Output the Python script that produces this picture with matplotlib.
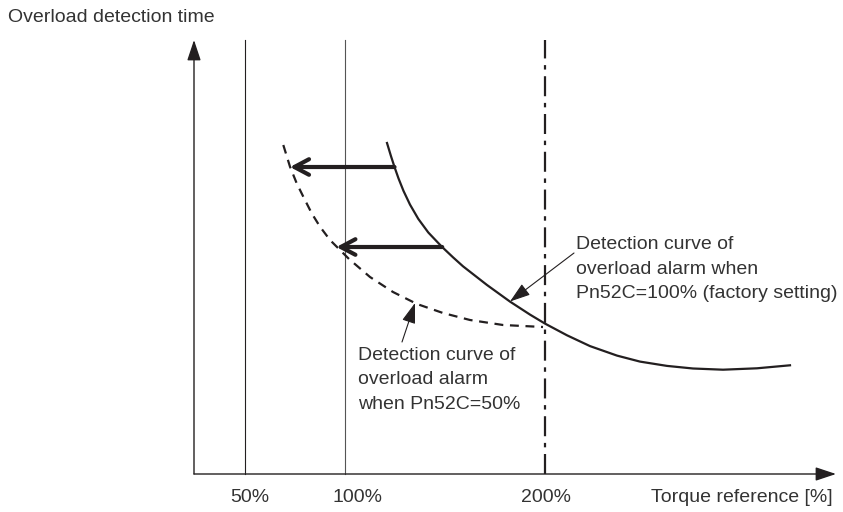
import matplotlib
matplotlib.use("Agg")
import matplotlib.pyplot as plt

# torque reference [%] vs overload detection time (arbitrary units)
solid_torque = [121, 123, 124.75, 126.75, 129.25, 132.5, 136.65, 141.65, 148.35, 154, 159,
                171, 182.5, 192.5, 200, 211, 222.5, 236, 247.5, 261, 274, 289, 306, 322.5]
solid_time = [331, 317.8, 307, 295.6, 283.1, 269.4, 255.1, 241.5, 227.4, 216.7, 207.7,
              189, 172.4, 159.4, 150.4, 138.7, 127.9, 118.4, 112.4, 108.1, 105.5, 104.3, 105.7, 108.7]

dashed_torque = [69.15, 72.5, 75.85, 79.15, 83.35, 87.5, 92.5, 96.5, 102, 112.5, 124, 136,
                 149, 162.5, 179, 199]
dashed_time = [329, 307.3, 290.7, 277.3, 260.7, 247.3, 234, 226, 215, 197, 182, 170,
               161, 154, 149, 147]

# horizontal shift arrows: (time, from torque, to torque)
shift_time = [307, 227]
shift_from = [124.75, 148.6]
shift_to = [72.5, 95.7]

ref_lines = [50, 100, 200]
tick_labels = ["50%", "100%", "200%"]

ink = "#231f20"
txt = "#333333"
fs = 14

plt.rcParams["font.family"] = ["Liberation Sans", "DejaVu Sans"]

fig = plt.figure(figsize=(8.43, 5.12), dpi=100)
ax = fig.add_axes([0, 0, 1, 1])
ax.set_xlim(-72.5, 349)
ax.set_ylim(-38, 474)
ax.axis("off")

x0 = 24.5   # where the time axis stands
top = 434

# axes with arrow heads
head = "-|>,head_length=0.9,head_width=0.3"
ax.annotate("", xy=(x0, top), xytext=(x0, 0),
            arrowprops=dict(arrowstyle=head, color=ink, lw=1.0, mutation_scale=14, shrinkA=0, shrinkB=0))
ax.annotate("", xy=(345.5, 0), xytext=(x0, 0),
            arrowprops=dict(arrowstyle=head, color=ink, lw=1.0, mutation_scale=14, shrinkA=0, shrinkB=0))

# reference lines
ax.plot([ref_lines[0]] * 2, [0, top], color=ink, lw=0.8)
ax.plot([ref_lines[1]] * 2, [0, top], color="#555555", lw=0.8)
ax.plot([ref_lines[2]] * 2, [0, top], color=ink, lw=1.6, dashes=(9, 3, 2, 3))

label_shift = [2.5, 6, 0.5]
for v, lab, dx in zip(ref_lines, tick_labels, label_shift):
    ax.text(v + dx, -24, lab, ha="center", va="center", fontsize=fs, color=txt)
ax.text(344, -24, "Torque reference [%]", ha="right", va="center", fontsize=fs, color=txt)
ax.text(-68.5, 456, "Overload detection time", ha="left", va="center", fontsize=fs, color=txt)

# detection curves
ax.plot(solid_torque, solid_time, color=ink, lw=1.6, solid_joinstyle="round")
ax.plot(dashed_torque, dashed_time, color=ink, lw=1.6, dashes=(4, 3), dash_joinstyle="round")

for t, a, b in zip(shift_time, shift_from, shift_to):
    ax.annotate("", xy=(b, t), xytext=(a, t),
                arrowprops=dict(arrowstyle="->,head_length=0.75,head_width=0.4", color=ink, lw=3.0,
                                mutation_scale=14, shrinkA=0, shrinkB=0))

# callouts
ax.annotate("", xy=(182.5, 172.5), xytext=(214.5, 221),
            arrowprops=dict(arrowstyle="-|>,head_length=0.9,head_width=0.3", color=ink, lw=0.8,
                            mutation_scale=14, shrinkA=0, shrinkB=0))
ax.text(215.5, 205, "Detection curve of\noverload alarm when\nPn52C=100% (factory setting)",
        ha="left", va="center", fontsize=fs, color=txt, linespacing=1.55)

ax.annotate("", xy=(135, 171), xytext=(128.5, 132),
            arrowprops=dict(arrowstyle="-|>,head_length=0.9,head_width=0.3", color=ink, lw=0.8,
                            mutation_scale=14, shrinkA=0, shrinkB=0))
ax.text(106.5, 94, "Detection curve of\noverload alarm\nwhen Pn52C=50%",
        ha="left", va="center", fontsize=fs, color=txt, linespacing=1.55)

fig.savefig("out.png", dpi=100)
